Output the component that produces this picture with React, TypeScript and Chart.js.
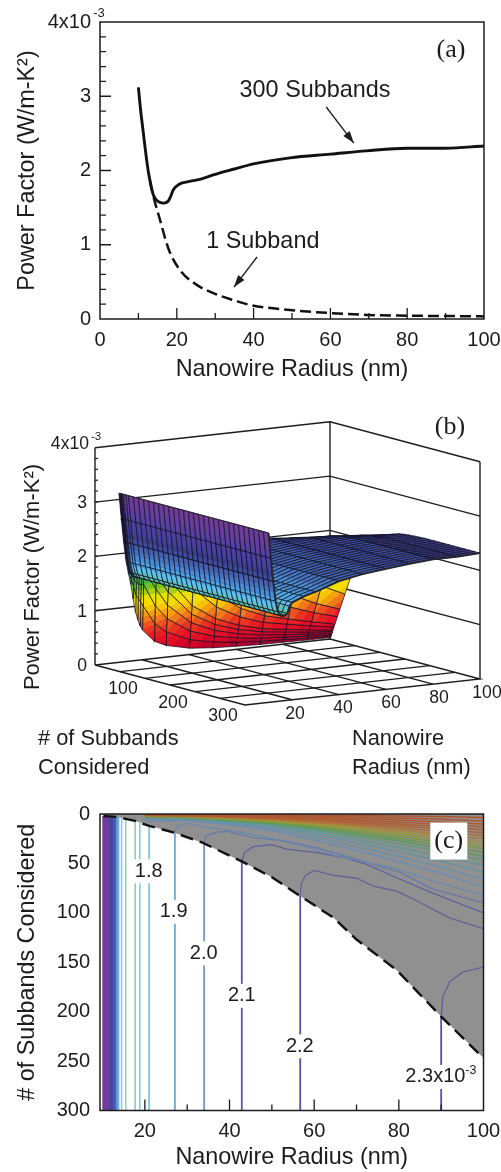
import React, { useEffect, useRef } from "react";
import { Chart, registerables } from "chart.js";

Chart.register(...registerables);

const SANS = '"Liberation Sans", Arial, sans-serif';
const SERIF = '"Liberation Serif", serif';
const INK = "#1c1c1c";

// ---------- panel (a) ----------
const radiusAllBands = [10, 10.5, 11.3, 12, 12.6, 13.2, 13.9, 15.2, 16.5, 17.8, 18.4, 19.1, 20.8, 23, 26, 29.5, 35, 40, 49.5, 60, 69.4, 80, 90, 100];
const pfAllBands = [3.12, 2.85, 2.5, 2.2, 1.98, 1.82, 1.67, 1.58, 1.56, 1.59, 1.65, 1.74, 1.82, 1.85, 1.88, 1.94, 2.02, 2.09, 2.17, 2.22, 2.265, 2.3, 2.3, 2.33];
const radiusOneBand = [13, 13.9, 15.6, 17.8, 20.8, 25.2, 30.4, 35, 39, 49.5, 60, 69.4, 80, 90, 100];
const pfOneBand = [1.85, 1.65, 1.34, 0.95, 0.66, 0.46, 0.33, 0.25, 0.19, 0.12, 0.08, 0.055, 0.045, 0.04, 0.035];

// ---------- panel (b) ----------
const subbandRows = [1, 2, 3, 4, 5, 6, 8, 10, 15, 20, 30, 40, 50, 60, 70, 80, 90, 100, 110, 120, 130, 140, 150, 160, 170, 180, 190, 200, 210, 220, 230, 240, 250, 260, 270, 280, 290, 300];
const surfaceRadii = [10, 11, 12, 13, 14, 15, 16, 17, 18, 19, 20, 25, 30, 40, 50, 60, 70, 80, 90, 100];
// power factor along subbandRows for each radius; a list stops once the value has saturated
const pfAt10 = [3.1, 3.12];
const pfAt11 = [2.62, 2.65];
const pfAt12 = [2.2, 2.22];
const pfAt13 = [1.85, 1.85];
const pfAt14 = [1.62, 1.65];
const pfAt15 = [1.42, 1.52, 1.58];
const pfAt16 = [1.15, 1.38, 1.5, 1.55, 1.56];
const pfAt17 = [0.9, 1.22, 1.45, 1.53, 1.56, 1.57];
const pfAt18 = [0.75, 1.15, 1.42, 1.55, 1.58, 1.6];
const pfAt19 = [0.63, 1.08, 1.4, 1.6, 1.7, 1.73];
const pfAt20 = [0.55, 1.0, 1.4, 1.65, 1.74, 1.77, 1.79];
const pfAt25 = [0.32, 0.65, 0.98, 1.3, 1.55, 1.7, 1.82, 1.85, 1.87, 1.88];
const pfAt30 = [0.22, 0.47, 0.72, 0.97, 1.22, 1.45, 1.72, 1.84, 1.91, 1.93, 1.94];
const pfAt40 = [0.12, 0.28, 0.44, 0.6, 0.76, 0.92, 1.24, 1.55, 1.9, 2.03, 2.07, 2.085, 2.09];
const pfAt50 = [0.08, 0.19, 0.3, 0.41, 0.52, 0.63, 0.85, 1.07, 1.6, 1.9, 2.09, 2.13, 2.15, 2.16, 2.17];
const pfAt60 = [0.06, 0.14, 0.22, 0.3, 0.38, 0.46, 0.62, 0.78, 1.18, 1.55, 2.03, 2.14, 2.18, 2.2, 2.21, 2.22];
const pfAt70 = [0.045, 0.11, 0.17, 0.23, 0.29, 0.35, 0.47, 0.6, 0.9, 1.2, 1.65, 1.92, 2.07, 2.14, 2.18, 2.21, 2.23, 2.25, 2.26, 2.265];
const pfAt80 = [0.04, 0.09, 0.14, 0.19, 0.24, 0.29, 0.39, 0.49, 0.72, 0.95, 1.35, 1.67, 1.9, 2.03, 2.12, 2.17, 2.21, 2.24, 2.26, 2.28, 2.29, 2.3];
const pfAt90 = [0.03, 0.07, 0.11, 0.15, 0.19, 0.23, 0.31, 0.39, 0.57, 0.75, 1.1, 1.42, 1.68, 1.85, 1.98, 2.08, 2.14, 2.19, 2.23, 2.25, 2.27, 2.28, 2.29, 2.3];
const pfAt100 = [0.03, 0.06, 0.09, 0.12, 0.15, 0.18, 0.24, 0.3, 0.45, 0.6, 0.9, 1.2, 1.48, 1.68, 1.8, 1.92, 2.02, 2.11, 2.18, 2.22, 2.25, 2.28, 2.295, 2.305, 2.31, 2.315, 2.32];
const surfaceColumns = [pfAt10, pfAt11, pfAt12, pfAt13, pfAt14, pfAt15, pfAt16, pfAt17, pfAt18, pfAt19, pfAt20, pfAt25, pfAt30, pfAt40, pfAt50, pfAt60, pfAt70, pfAt80, pfAt90, pfAt100];
// one colour per 0.1 of power factor
const surfaceBands = ["#a8002e", "#c0002a", "#d80428", "#e40e26", "#e61e24", "#e83222", "#ec5220", "#f07a1a", "#f6a010", "#f8c408", "#f6dc00", "#e6e000", "#a8d010", "#74c428", "#4cb840", "#52bc80", "#5cc4b8", "#5cc0ea", "#4ea8e4", "#4a8cd4", "#4674c0", "#4460ac", "#404c9c", "#3c3c88", "#44409c", "#4a40a0", "#5040a0", "#5a40a0", "#643f9f", "#6a3f9c", "#703c98", "#743a96"];
const floorRadii = [20, 40, 60, 80];
const floorSubbands = [50, 100, 150, 200, 250];
const wallLevels = [1, 2, 3, 4];

// ---------- panel (c) ----------
const boundaryRadius = [10.2, 13.4, 17.7, 21, 27, 33.6, 42.9, 50, 56.7, 64.6, 70, 79.5, 90, 100];
const boundarySubbands = [2, 3, 7, 12, 19, 29, 48, 64, 83, 105, 127, 158, 205, 247];
const denseRadii = [10.2, 10.6, 11, 11.4, 11.7, 12, 12.4, 12.8, 13.1, 13.4, 13.7, 14.5, 15.5, 17.7, 18.8];
const denseColors = ["#713c98", "#713c98", "#6c3e9a", "#663f9c", "#5f409e", "#4a45a0", "#46479f", "#454da4", "#4a60b4", "#5a8ed2", "#6ca8e0", "#7cccf2", "#8fd4b4", "#84ccaa", "#74c8ee"];
const denseTops = [2, 2, 2, 2, 2, 2, 3, 3, 3, 3, 3, 4, 4, 6, 7];
const fanRadii = [20, 30, 40, 50, 60, 70, 80, 90, 100];
const fan18 = [7, 6.5, 11, 17, 26, 37, 48, 60, 74];
const fan17 = [4.5, 5.5, 9.5, 15, 23, 33, 43, 54, 66];
const fan16 = [4, 5, 8.5, 13, 20, 29, 38, 48, 59];
const fan15 = [3, 4.5, 7.5, 11.5, 18, 26, 34, 43, 52];
const fan14 = [2.8, 4.1, 6.8, 10.5, 16, 23, 30, 38, 47];
const fan13 = [2.6, 3.8, 6.2, 9.5, 14.5, 21, 27, 35, 43];
const fan12 = [2.4, 3.5, 5.7, 8.7, 13, 19, 25, 32, 39];
const fan11 = [2.2, 3.2, 5.2, 8, 12, 17, 22.5, 29, 35];
const fan10 = [2, 2.9, 4.7, 7.2, 10.8, 15.3, 20, 26, 32];
const fan09 = [1.8, 2.6, 4.2, 6.5, 9.7, 13.7, 18, 23, 29];
const fan08 = [1.6, 2.3, 3.7, 5.8, 8.6, 12.2, 16, 20.5, 25];
const fan07 = [1.4, 2, 3.3, 5, 7.5, 10.7, 14, 18, 22];
const fan06 = [1.2, 1.7, 2.8, 4.3, 6.4, 9.2, 12, 15.5, 19];
const fan05 = [1, 1.4, 2.4, 3.6, 5.4, 7.7, 10, 13, 16];
const fan04 = [0.8, 1.2, 1.9, 2.9, 4.3, 6.1, 8, 10.5, 13];
const fan03 = [0.6, 0.9, 1.4, 2.2, 3.2, 4.6, 6, 8, 10];
const fan02 = [0.4, 0.6, 1, 1.4, 2.1, 3, 4, 5.3, 7];
const fan01 = [0.2, 0.3, 0.5, 0.7, 1, 1.5, 2, 2.6, 3.5];
const fanRows = [fan18, fan17, fan16, fan15, fan14, fan13, fan12, fan11, fan10, fan09, fan08, fan07, fan06, fan05, fan04, fan03, fan02, fan01];
const fanColors = ["#6c8cb4", "#6a90ac", "#6494a4", "#609894", "#5e9a7c", "#5c9a60", "#689a48", "#7e9a3c", "#949a38", "#a69038", "#ae7c38", "#b06c36", "#b06234", "#b05c32", "#b05a32", "#b05830", "#b05630", "#b05430"];
const contour23R = [90, 90, 90.4, 92, 95, 100];
const contour23N = [300, 205, 185, 170, 160, 155];
const contour22R = [56.7, 56.7, 57, 58, 60, 64.6, 70, 74, 79.5, 84.3, 92, 100];
const contour22N = [300, 83, 70, 62, 57, 62, 65, 73, 78, 88, 105, 116];
const contour21R = [42.9, 42.9, 43.6, 45.6, 50, 53.5, 60.7, 67, 72.4, 80.3, 88, 100];
const contour21N = [300, 48, 39, 33, 31, 35.6, 39, 44, 51, 66, 80, 100];
const contour20R = [34, 34, 34.4, 36.8, 39.5, 45.5, 52.6, 60.5, 68.5, 80.3, 88, 100];
const contour20N = [300, 29, 22, 18.6, 17.6, 24, 27, 34, 44, 59, 76, 90];
const contour19R = [27.1, 27.1, 27.6, 29.9, 34.7, 41, 49, 57, 65, 80, 88, 100];
const contour19N = [300, 19, 12, 9.5, 13.6, 17, 24, 32, 42, 56, 68, 82];
const namedRadii = [[contour23R, contour23N, "#5450a2", "#655f98"], [contour22R, contour22N, "#5450a8", "#655f98"], [contour21R, contour21N, "#5a56b0", "#635f9c"], [contour20R, contour20N, "#7a90d0", "#667aa8"], [contour19R, contour19N, "#6fa8e0", "#6a88ac"]] as const;
const contour18Radius = 21;

type Pt = { x: number; y: number };
const noInteraction = { animation: false as const, responsive: false, events: [] as string[] };
const plainPlugins = { legend: { display: false }, tooltip: { enabled: false }, title: { display: false } };
const noScalePadding = (s: any) => { s.paddingLeft = 0; s.paddingRight = 0; s.paddingTop = 0; s.paddingBottom = 0; };
const quietGrid = { display: false, drawTicks: false, tickLength: 0 };

function box(ctx: CanvasRenderingContext2D, area: any) {
  ctx.save();
  ctx.strokeStyle = INK;
  ctx.lineWidth = 1.5;
  ctx.strokeRect(area.left, area.top, area.right - area.left, area.bottom - area.top);
  ctx.restore();
}

function inwardTicks(chart: any, xValues: number[], yValues: number[], isMajorX: (v: number) => boolean, isMajorY: (v: number) => boolean) {
  const { ctx, chartArea: a, scales } = chart;
  ctx.save();
  ctx.strokeStyle = INK;
  ctx.lineWidth = 1.3;
  ctx.beginPath();
  for (const v of xValues) {
    const px = scales.x.getPixelForValue(v);
    ctx.moveTo(px, a.bottom);
    ctx.lineTo(px, a.bottom - (isMajorX(v) ? 11 : 6));
  }
  for (const v of yValues) {
    const py = scales.y.getPixelForValue(v);
    ctx.moveTo(a.left, py);
    ctx.lineTo(a.left + (isMajorY(v) ? 11 : 6), py);
  }
  ctx.stroke();
  ctx.restore();
}

function say(ctx: CanvasRenderingContext2D, text: string, x: number, y: number, font: string, align: CanvasTextAlign = "center") {
  ctx.save();
  ctx.fillStyle = INK;
  ctx.font = font;
  ctx.textAlign = align;
  ctx.textBaseline = "middle";
  ctx.fillText(text, x, y);
  ctx.restore();
}

function arrow(chart: any, from: number[], to: number[]) {
  const { ctx, scales } = chart;
  const x0 = scales.x.getPixelForValue(from[0]);
  const y0 = scales.y.getPixelForValue(from[1]);
  const x1 = scales.x.getPixelForValue(to[0]);
  const y1 = scales.y.getPixelForValue(to[1]);
  const t = Math.atan2(y1 - y0, x1 - x0);
  ctx.save();
  ctx.strokeStyle = INK;
  ctx.fillStyle = INK;
  ctx.lineWidth = 1.3;
  ctx.beginPath();
  ctx.moveTo(x0, y0);
  ctx.lineTo(x1, y1);
  ctx.stroke();
  ctx.beginPath();
  ctx.moveTo(x1, y1);
  ctx.lineTo(x1 - 12 * Math.cos(t) + 4 * Math.sin(t), y1 - 12 * Math.sin(t) - 4 * Math.cos(t));
  ctx.lineTo(x1 - 12 * Math.cos(t) - 4 * Math.sin(t), y1 - 12 * Math.sin(t) + 4 * Math.cos(t));
  ctx.closePath();
  ctx.fill();
  ctx.restore();
}

function range(start: number, end: number, step: number) {
  const out: number[] = [];
  for (let i = 0; start + i * step <= end + 1e-9; i++) out.push(+(start + i * step).toFixed(4));
  return out;
}

function buildA(canvas: HTMLCanvasElement) {
  const line = (xs: number[], ys: number[]) => xs.map((x, i) => ({ x, y: ys[i] }));
  return new Chart(canvas, {
    type: "scatter",
    data: {
      datasets: [
        { data: line(radiusAllBands, pfAllBands), showLine: true, borderColor: "#111", borderWidth: 2.9, pointRadius: 0, cubicInterpolationMode: "monotone" },
        { data: line(radiusOneBand, pfOneBand), showLine: true, borderColor: "#111", borderWidth: 2.5, borderDash: [11, 5], pointRadius: 0, cubicInterpolationMode: "monotone" },
      ] as any,
    },
    options: {
      ...noInteraction,
      clip: false,
      layout: { autoPadding: false, padding: { left: 0, right: 17, top: 22, bottom: 0 } },
      plugins: plainPlugins,
      scales: {
        x: {
          type: "linear", min: 0, max: 100,
          grid: quietGrid, border: { display: false },
          ticks: { stepSize: 20, color: INK, padding: 9, maxRotation: 0, font: { family: SANS, size: 20 } },
          title: { display: true, text: "Nanowire Radius (nm)", color: INK, font: { family: SANS, size: 23.4 }, padding: { top: 0, bottom: 1 } },
          afterFit: (s: any) => { s.height = 66; noScalePadding(s); },
        },
        y: {
          type: "linear", min: 0, max: 4,
          grid: quietGrid, border: { display: false },
          ticks: { stepSize: 1, color: INK, padding: 9, font: { family: SANS, size: 20 }, callback: (v: any) => (v === 4 ? "4x10" : String(v)) },
          title: { display: true, text: "Power Factor (W/m-K²)", color: INK, font: { family: SANS, size: 23.4 }, padding: { top: 14, bottom: 0 } },
          afterFit: (s: any) => { s.width = 100; noScalePadding(s); },
        },
      },
    },
    plugins: [{
      id: "panelA",
      afterDatasetsDraw(chart: any) {
        const { ctx, chartArea: a, scales } = chart;
        box(ctx, a);
        inwardTicks(chart, range(10, 90, 10), range(0.2, 3.8, 0.2), (v) => v % 20 === 0, (v) => Number.isInteger(v));
        say(ctx, "-3", 99, scales.y.getPixelForValue(4) - 9, `13px ${SANS}`);
        const at = (x: number, y: number) => [scales.x.getPixelForValue(x), scales.y.getPixelForValue(y)] as const;
        let p = at(56, 3.08);
        say(ctx, "300 Subbands", p[0], p[1], `23.4px ${SANS}`);
        p = at(42.4, 1.04);
        say(ctx, "1 Subband", p[0], p[1], `23.4px ${SANS}`);
        p = at(91.4, 3.62);
        say(ctx, "(a)", p[0], p[1], `26px ${SERIF}`);
        arrow(chart, [58.9, 2.855], [66.1, 2.37]);
        arrow(chart, [40.9, 0.835], [34.9, 0.43]);
      },
    }],
  } as any);
}

// Oblique view of panel (b): radius, subbands and power factor each run along one fixed direction.
const project = (r: number, n: number, z: number): Pt => ({
  x: 95 + r * 2.35 + n * 0.5,
  y: 665 - r * 0.26 + n * 0.1333 - z * 54.3,
});
const pfAt = (col: number[], row: number) => (row < col.length ? col[row] : col[col.length - 1]);

function bandFill(chart: any, low: Pt, high: Pt, zLow: number, zHigh: number) {
  const band = (z: number) => surfaceBands[Math.max(0, Math.min(surfaceBands.length - 1, Math.floor(z * 10 + 1e-6)))];
  if (zHigh - zLow < 0.02 || !chart.chartArea) return band((zLow + zHigh) / 2);
  const sx = chart.scales.x;
  const sy = chart.scales.y;
  const coords = [sx.getPixelForValue(low.x), sy.getPixelForValue(low.y), sx.getPixelForValue(high.x), sy.getPixelForValue(high.y)];
  if (!coords.every(Number.isFinite)) return band((zLow + zHigh) / 2);
  const g = chart.ctx.createLinearGradient(coords[0], coords[1], coords[2], coords[3]);
  let last = band(zLow);
  g.addColorStop(0, last);
  for (let b = Math.floor(zLow * 10) + 1; b / 10 < zHigh; b++) {
    const t = (b / 10 - zLow) / (zHigh - zLow);
    if (t <= 0 || t >= 1) continue;
    g.addColorStop(t, last);
    last = band(b / 10);
    g.addColorStop(t, last);
  }
  g.addColorStop(1, last);
  return g;
}

function buildB(canvas: HTMLCanvasElement) {
  const drawOrder: any[] = [];
  const rule = (pts: Pt[], width = 1.4, color = INK) => drawOrder.push({ data: pts, showLine: true, borderColor: color, borderWidth: width, pointRadius: 0, fill: false });
  // floor
  rule([project(0, 0, 0), project(100, 0, 0), project(100, 300, 0), project(0, 300, 0), project(0, 0, 0)]);
  for (const r of floorRadii) rule([project(r, 0, 0), project(r, 300, 0)]);
  for (const n of floorSubbands) rule([project(0, n, 0), project(100, n, 0)]);
  // walls
  for (const z of wallLevels) {
    rule([project(0, 0, z), project(100, 0, z), project(100, 300, z)]);
  }
  rule([project(0, 0, 0), project(0, 0, 4)]);
  rule([project(100, 0, 0), project(100, 0, 4)]);
  rule([project(100, 300, 0), project(100, 300, 4)]);
  // surface, far cells first
  for (let row = 0; row < subbandRows.length - 1; row++) {
    for (let c = surfaceRadii.length - 2; c >= 0; c--) {
      const corners = [[c, row], [c + 1, row], [c + 1, row + 1], [c, row + 1]].map(([ci, ri]) => {
        const z = pfAt(surfaceColumns[ci], ri);
        return { z, p: project(surfaceRadii[ci], subbandRows[ri], z) };
      });
      const sorted = [...corners].sort((a, b) => a.z - b.z);
      const lo = sorted[0];
      const hi = sorted[3];
      const pts = corners.map((k) => k.p);
      drawOrder.push({
        data: [...pts, pts[0]],
        showLine: true,
        pointRadius: 0,
        fill: "shape",
        borderColor: "rgba(14,14,34,0.88)",
        borderWidth: 0.8,
        backgroundColor: (ctx: any) => bandFill(ctx.chart, lo.p, hi.p, lo.z, hi.z),
      });
    }
  }
  // heavier outline of the last row and of the first radius
  const lastRow = subbandRows.length - 1;
  rule(surfaceRadii.map((r, c) => project(r, subbandRows[lastRow], pfAt(surfaceColumns[c], lastRow))), 1.9, "#26262e");
  rule(subbandRows.map((n, i) => project(surfaceRadii[0], n, pfAt(surfaceColumns[0], i))), 1, "#26262e");

  return new Chart(canvas, {
    type: "scatter",
    data: { datasets: drawOrder.reverse() },
    options: {
      ...noInteraction,
      layout: { autoPadding: false, padding: 0 },
      plugins: plainPlugins,
      scales: {
        x: { type: "linear", display: false, min: 0, max: 501 },
        y: { type: "linear", display: false, reverse: true, min: 390, max: 790 },
      },
    },
    plugins: [{
      id: "panelB",
      afterDatasetsDraw(chart: any) {
        const { ctx, scales } = chart;
        const px = (x: number) => scales.x.getPixelForValue(x);
        const py = (y: number) => scales.y.getPixelForValue(y);
        const tick = `17.6px ${SANS}`;
        const big = `21.8px ${SANS}`;
        // z axis
        ctx.save();
        ctx.strokeStyle = INK;
        ctx.lineWidth = 1.2;
        ctx.beginPath();
        for (const z of range(0.2, 3.8, 0.2)) {
          const p = project(0, 0, z);
          ctx.moveTo(px(p.x), py(p.y));
          ctx.lineTo(px(p.x) + 3, py(p.y) - 0.3);
        }
        ctx.stroke();
        ctx.restore();
        for (const z of [0, 1, 2, 3]) {
          const p = project(0, 0, z);
          say(ctx, String(z), px(p.x) - 8, py(p.y) + 1, tick, "right");
        }
        const top = project(0, 0, 4);
        say(ctx, "4x10", px(top.x) - 6, py(top.y) - 4, tick, "right");
        say(ctx, "-3", px(top.x) + 1, py(top.y) - 11, `11.5px ${SANS}`);
        // subbands axis
        for (const n of [100, 200, 300]) {
          const p = project(0, n, 0);
          say(ctx, String(n), px(p.x) - 22, py(p.y) + 11, tick);
        }
        // radius axis
        for (const r of [20, 40, 60, 80, 100]) {
          const p = project(r, 300, 0);
          say(ctx, String(r), px(p.x) + 2 + r * 0.05, py(p.y) + 14, tick);
        }
        say(ctx, "# of Subbands", 38, py(739), big, "left");
        say(ctx, "Considered", 38, py(768), big, "left");
        say(ctx, "Nanowire", 352, py(739), big, "left");
        say(ctx, "Radius (nm)", 352, py(768), big, "left");
        say(ctx, "(b)", 450, py(427), `26px ${SERIF}`);
        ctx.save();
        ctx.translate(33, py(577));
        ctx.rotate(-Math.PI / 2);
        say(ctx, "Power Factor (W/m-K²)", 0, 0, `22px ${SANS}`);
        ctx.restore();
      },
    }],
  } as any);
}

function buildC(canvas: HTMLCanvasElement) {
  const drawOrder: any[] = [];
  const curve = (xs: number[], ys: number[]) => xs.map((x, i) => ({ x, y: ys[i] }));
  const stroke = (data: Pt[], color: string, width: number) => drawOrder.push({ data, showLine: true, borderColor: color, borderWidth: width, pointRadius: 0, fill: false });
  // grey unconverged region, closed by the top of the reversed scale
  drawOrder.push({ data: curve(boundaryRadius, boundarySubbands), showLine: true, pointRadius: 0, borderWidth: 0, fill: "end", backgroundColor: "#909090" });
  fanRows.forEach((row, i) => stroke(curve(fanRadii, row), fanColors[i], 1.5));
  namedRadii.forEach(([rs, ns, , muted]) => stroke(curve(rs as any, ns as any).slice(1), muted, 1.3));
  denseRadii.forEach((r, i) => stroke([{ x: r, y: denseTops[i] }, { x: r, y: 300 }], denseColors[i], i < 11 ? 2.2 : 1.5));
  stroke([{ x: contour18Radius, y: 12 }, { x: contour18Radius, y: 300 }], "#6cc0ea", 1.6);
  namedRadii.forEach(([rs, ns, vivid]) => stroke([{ x: rs[0], y: ns[0] }, { x: rs[1], y: ns[1] }], vivid, 1.8));
  drawOrder.push({ data: curve(boundaryRadius, boundarySubbands), showLine: true, pointRadius: 0, borderColor: "#111", borderWidth: 2.4, borderDash: [13, 7], fill: false });

  return new Chart(canvas, {
    type: "scatter",
    data: { datasets: drawOrder.reverse() },
    options: {
      ...noInteraction,
      layout: { autoPadding: false, padding: { left: 0, right: 17.5, top: 24, bottom: 0 } },
      plugins: plainPlugins,
      scales: {
        x: {
          type: "linear", min: 9.4, max: 100,
          grid: quietGrid, border: { display: false },
          afterBuildTicks: (s: any) => { s.ticks = range(20, 100, 20).map((value) => ({ value })); },
          ticks: { color: INK, padding: 9, maxRotation: 0, font: { family: SANS, size: 20 } },
          title: { display: true, text: "Nanowire Radius (nm)", color: INK, font: { family: SANS, size: 23.4 }, padding: { top: 0, bottom: 0 } },
          afterFit: (s: any) => { s.height = 61.5; noScalePadding(s); },
        },
        y: {
          type: "linear", reverse: true, min: 0, max: 300,
          grid: quietGrid, border: { display: false },
          ticks: { stepSize: 50, color: INK, padding: 10, font: { family: SANS, size: 20 } },
          title: { display: true, text: "# of Subbands Considered", color: INK, font: { family: SANS, size: 23.4 }, padding: { top: 14, bottom: 0 } },
          afterFit: (s: any) => { s.width = 100; noScalePadding(s); },
        },
      },
    },
    plugins: [{
      id: "panelC",
      afterDatasetsDraw(chart: any) {
        const { ctx, chartArea: a, scales } = chart;
        box(ctx, a);
        inwardTicks(chart, range(20, 90, 10), [], (v) => v % 20 === 0, () => false);
        const font = `20px ${SANS}`;
        const label = (text: string, r: number, n: number, w: number) => {
          const x = scales.x.getPixelForValue(r);
          const y = scales.y.getPixelForValue(n);
          ctx.fillStyle = "#fff";
          ctx.fillRect(x - w / 2, y - 12, w, 24);
          say(ctx, text, x, y, font);
        };
        label("1.8", 20.9, 58, 30);
        label("1.9", 26.8, 99, 30);
        label("2.0", 33.9, 141, 30);
        label("2.1", 42.9, 184, 30);
        label("2.2", 56.6, 235, 30);
        const x = scales.x.getPixelForValue(89.8);
        const y = scales.y.getPixelForValue(266);
        ctx.fillStyle = "#fff";
        ctx.fillRect(x - 36, y - 12, 74, 24);
        say(ctx, "2.3x10", x - 35, y, font, "left");
        say(ctx, "-3", x + 25, y - 6, `12.5px ${SANS}`, "left");
        const cx = scales.x.getPixelForValue(91.8);
        const cy = scales.y.getPixelForValue(27.4);
        ctx.fillStyle = "#fff";
        ctx.fillRect(cx - 18.5, cy - 18.5, 37, 37);
        say(ctx, "(c)", cx, cy, `26px ${SERIF}`);
      },
    }],
  } as any);
}

export default function App() {
  const aRef = useRef<HTMLCanvasElement>(null);
  const bRef = useRef<HTMLCanvasElement>(null);
  const cRef = useRef<HTMLCanvasElement>(null);
  useEffect(() => {
    const charts = [buildA(aRef.current!), buildB(bRef.current!), buildC(cRef.current!)];
    return () => charts.forEach((c) => c.destroy());
  }, []);
  const place = (top: number): React.CSSProperties => ({ position: "absolute", left: 0, top, display: "block" });
  return (
    <div style={{ position: "absolute", left: 0, top: 0, width: 501, height: 1172, background: "#fff", overflow: "hidden" }}>
      <canvas ref={aRef} width={501} height={385} style={place(0)} />
      <canvas ref={bRef} width={501} height={400} style={place(390)} />
      <canvas ref={cRef} width={501} height={382} style={place(790)} />
    </div>
  );
}
